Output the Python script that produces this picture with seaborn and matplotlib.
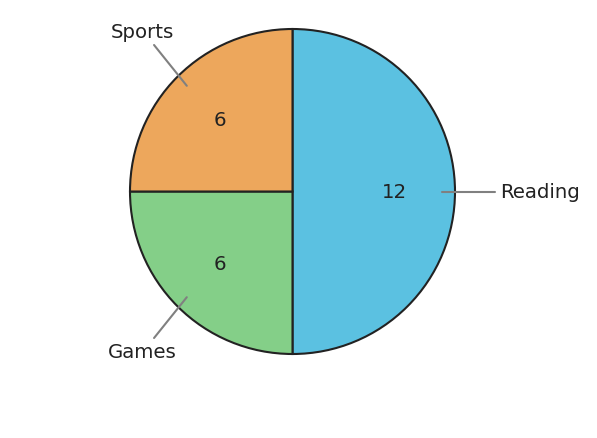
import matplotlib
matplotlib.use("Agg")
import matplotlib.pyplot as plt
import seaborn as sns
import numpy as np

sns.set_theme(style="white")
plt.rcParams['font.family'] = ['DejaVu Sans']

labels = ["Reading", "Games", "Sports"]
values = [12, 6, 6]
colors = ["#5bc1e1", "#84cf88", "#eda75c"]

fig = plt.figure(figsize=(5.97, 4.39), dpi=100)
ax = fig.add_axes([0, 0, 1, 1])
wedges, texts = ax.pie(values, colors=colors, startangle=90, counterclock=False,
                       wedgeprops=dict(edgecolor="#222222", linewidth=1.5))

for w, lab, v in zip(wedges, labels, values):
    ang = np.deg2rad((w.theta1 + w.theta2) / 2)
    c, s = np.cos(ang), np.sin(ang)
    ax.text(0.63 * c, 0.63 * s, str(v), ha="center", va="center",
            fontsize=14.2, color="#222222")
    if abs(c) > 0.9:
        ax.plot([0.92 * c, 1.247 * c], [0.92 * s, 1.247 * s], color="#808080", lw=1.5)
        ax.text(1.28 * c, 1.28 * s, lab, ha="left" if c > 0 else "right",
                va="center", fontsize=14.2, color="#222222")
    else:
        ex, ey = 1.205 * c, 1.275 * s
        ax.plot([0.92 * c, ex], [0.92 * s, ey], color="#808080", lw=1.5)
        ax.text(1.31 * c, 1.39 * s, lab, ha="center", va="center",
                fontsize=14.2, color="#222222")

ax.set_aspect("equal")
R = 162.5
ax.set_xlim(-292.5 / R, (597 - 292.5) / R)
ax.set_ylim(-(439 - 192.5) / R, 192.5 / R)
ax.axis("off")
fig.savefig("out.png", dpi=100)
